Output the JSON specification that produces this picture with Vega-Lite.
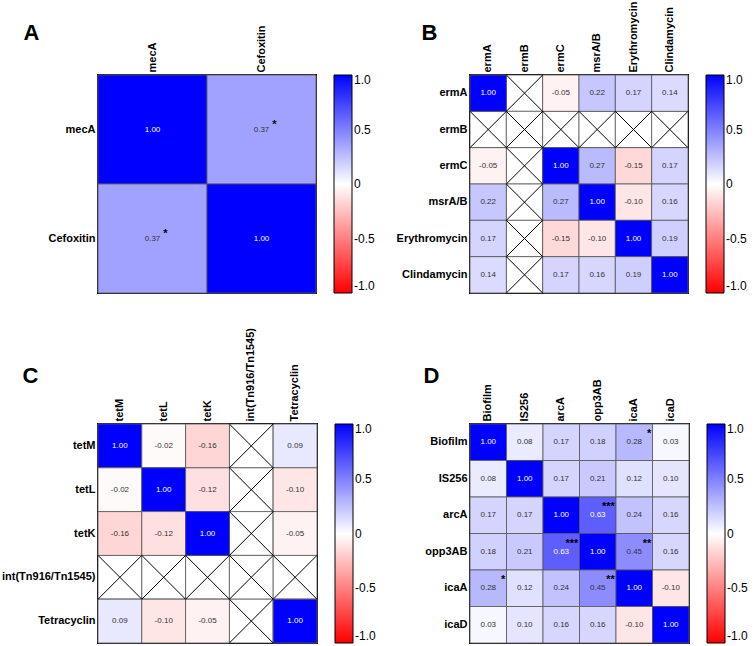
{
  "$schema": "https://vega.github.io/schema/vega-lite/v6.json",
  "padding": 0,
  "background": "white",
  "datasets": {
    "A": [
      {"row":"mecA","col":"mecA","r":1},{"row":"mecA","col":"Cefoxitin","r":0.37,"sig":"*"},
      {"row":"Cefoxitin","col":"mecA","r":0.37,"sig":"*"},{"row":"Cefoxitin","col":"Cefoxitin","r":1}
    ],
    "B": [
      {"row":"ermA","col":"ermA","r":1},{"row":"ermA","col":"ermB","r":null},{"row":"ermA","col":"ermC","r":-0.05},{"row":"ermA","col":"msrA/B","r":0.22},{"row":"ermA","col":"Erythromycin","r":0.17},{"row":"ermA","col":"Clindamycin","r":0.14},
      {"row":"ermB","col":"ermA","r":null},{"row":"ermB","col":"ermB","r":null},{"row":"ermB","col":"ermC","r":null},{"row":"ermB","col":"msrA/B","r":null},{"row":"ermB","col":"Erythromycin","r":null},{"row":"ermB","col":"Clindamycin","r":null},
      {"row":"ermC","col":"ermA","r":-0.05},{"row":"ermC","col":"ermB","r":null},{"row":"ermC","col":"ermC","r":1},{"row":"ermC","col":"msrA/B","r":0.27},{"row":"ermC","col":"Erythromycin","r":-0.15},{"row":"ermC","col":"Clindamycin","r":0.17},
      {"row":"msrA/B","col":"ermA","r":0.22},{"row":"msrA/B","col":"ermB","r":null},{"row":"msrA/B","col":"ermC","r":0.27},{"row":"msrA/B","col":"msrA/B","r":1},{"row":"msrA/B","col":"Erythromycin","r":-0.10},{"row":"msrA/B","col":"Clindamycin","r":0.16},
      {"row":"Erythromycin","col":"ermA","r":0.17},{"row":"Erythromycin","col":"ermB","r":null},{"row":"Erythromycin","col":"ermC","r":-0.15},{"row":"Erythromycin","col":"msrA/B","r":-0.10},{"row":"Erythromycin","col":"Erythromycin","r":1},{"row":"Erythromycin","col":"Clindamycin","r":0.19},
      {"row":"Clindamycin","col":"ermA","r":0.14},{"row":"Clindamycin","col":"ermB","r":null},{"row":"Clindamycin","col":"ermC","r":0.17},{"row":"Clindamycin","col":"msrA/B","r":0.16},{"row":"Clindamycin","col":"Erythromycin","r":0.19},{"row":"Clindamycin","col":"Clindamycin","r":1}
    ],
    "C": [
      {"row":"tetM","col":"tetM","r":1},{"row":"tetM","col":"tetL","r":-0.02},{"row":"tetM","col":"tetK","r":-0.16},{"row":"tetM","col":"int(Tn916/Tn1545)","r":null},{"row":"tetM","col":"Tetracyclin","r":0.09},
      {"row":"tetL","col":"tetM","r":-0.02},{"row":"tetL","col":"tetL","r":1},{"row":"tetL","col":"tetK","r":-0.12},{"row":"tetL","col":"int(Tn916/Tn1545)","r":null},{"row":"tetL","col":"Tetracyclin","r":-0.10},
      {"row":"tetK","col":"tetM","r":-0.16},{"row":"tetK","col":"tetL","r":-0.12},{"row":"tetK","col":"tetK","r":1},{"row":"tetK","col":"int(Tn916/Tn1545)","r":null},{"row":"tetK","col":"Tetracyclin","r":-0.05},
      {"row":"int(Tn916/Tn1545)","col":"tetM","r":null},{"row":"int(Tn916/Tn1545)","col":"tetL","r":null},{"row":"int(Tn916/Tn1545)","col":"tetK","r":null},{"row":"int(Tn916/Tn1545)","col":"int(Tn916/Tn1545)","r":null},{"row":"int(Tn916/Tn1545)","col":"Tetracyclin","r":null},
      {"row":"Tetracyclin","col":"tetM","r":0.09},{"row":"Tetracyclin","col":"tetL","r":-0.10},{"row":"Tetracyclin","col":"tetK","r":-0.05},{"row":"Tetracyclin","col":"int(Tn916/Tn1545)","r":null},{"row":"Tetracyclin","col":"Tetracyclin","r":1}
    ],
    "D": [
      {"row":"Biofilm","col":"Biofilm","r":1},{"row":"Biofilm","col":"IS256","r":0.08},{"row":"Biofilm","col":"arcA","r":0.17},{"row":"Biofilm","col":"opp3AB","r":0.18},{"row":"Biofilm","col":"icaA","r":0.28,"sig":"*"},{"row":"Biofilm","col":"icaD","r":0.03},
      {"row":"IS256","col":"Biofilm","r":0.08},{"row":"IS256","col":"IS256","r":1},{"row":"IS256","col":"arcA","r":0.17},{"row":"IS256","col":"opp3AB","r":0.21},{"row":"IS256","col":"icaA","r":0.12},{"row":"IS256","col":"icaD","r":0.10},
      {"row":"arcA","col":"Biofilm","r":0.17},{"row":"arcA","col":"IS256","r":0.17},{"row":"arcA","col":"arcA","r":1},{"row":"arcA","col":"opp3AB","r":0.63,"sig":"***"},{"row":"arcA","col":"icaA","r":0.24},{"row":"arcA","col":"icaD","r":0.16},
      {"row":"opp3AB","col":"Biofilm","r":0.18},{"row":"opp3AB","col":"IS256","r":0.21},{"row":"opp3AB","col":"arcA","r":0.63,"sig":"***"},{"row":"opp3AB","col":"opp3AB","r":1},{"row":"opp3AB","col":"icaA","r":0.45,"sig":"**"},{"row":"opp3AB","col":"icaD","r":0.16},
      {"row":"icaA","col":"Biofilm","r":0.28,"sig":"*"},{"row":"icaA","col":"IS256","r":0.12},{"row":"icaA","col":"arcA","r":0.24},{"row":"icaA","col":"opp3AB","r":0.45,"sig":"**"},{"row":"icaA","col":"icaA","r":1},{"row":"icaA","col":"icaD","r":-0.10},
      {"row":"icaD","col":"Biofilm","r":0.03},{"row":"icaD","col":"IS256","r":0.10},{"row":"icaD","col":"arcA","r":0.16},{"row":"icaD","col":"opp3AB","r":0.16},{"row":"icaD","col":"icaA","r":-0.10},{"row":"icaD","col":"icaD","r":1}
    ]
  },
  "columns": 2,
  "spacing": {"row": 30, "column": 18},
  "align": {"row": "each", "column": "each"},
  "bounds": "full",
  "resolve": {"scale": {"color": "independent"}, "legend": {"color": "independent"}},
  "concat": [
    {
      "width": 218, "height": 218,
      "data": {"name": "A"},
      "encoding": {
        "x": {"field": "col", "type": "nominal", "sort": ["mecA","Cefoxitin"], "scale": {"paddingInner": 0, "paddingOuter": 0}, "axis": {"orient": "top", "title": null}},
        "y": {"field": "row", "type": "nominal", "sort": ["mecA","Cefoxitin"], "scale": {"paddingInner": 0, "paddingOuter": 0}, "axis": {"title": "A", "titleX": -75, "titleY": -36}}
      },
      "layer": [
        {"mark": {"type": "rect", "fill": "white", "stroke": "#555", "strokeWidth": 0.8}},
        {"transform": [{"filter": "datum.r !== null"}], "mark": {"type": "rect", "stroke": "#555", "strokeWidth": 0.8},
         "encoding": {"color": {"field": "r", "type": "quantitative", "scale": {"type": "linear", "domain": [-1,0,1], "range": ["#ff0000","#ffffff","#0000ff"], "interpolate": "rgb"},
           "legend": {"title": null, "values": [1,0.5,0,-0.5,-1], "labelExpr": "datum.value == 0 ? '0' : replace(format(datum.value, '.1f'), '\u2212', '-')", "gradientLength": 218}}}},
        {"transform": [{"filter": "datum.r !== null"}, {"calculate": "replace(format(datum.r, '.2f'), '\u2212', '-')", "as": "lab"}], "mark": {"type": "text", "fontSize": 8},
         "encoding": {"text": {"field": "lab"}, "color": {"condition": {"test": "datum.r > 0.5", "value": "white"}, "value": "#333"}}},
        {"transform": [{"filter": "datum.sig != null"}], "mark": {"type": "text", "fontSize": 11, "fontWeight": "bold", "align": "right", "baseline": "middle", "dx": 15, "dy": -5, "color": "black"},
         "encoding": {"text": {"field": "sig"}}}
      ]
    },
    {
      "width": 218, "height": 218,
      "data": {"name": "B"},
      "encoding": {
        "x": {"field": "col", "type": "nominal", "sort": ["ermA","ermB","ermC","msrA/B","Erythromycin","Clindamycin"], "scale": {"paddingInner": 0, "paddingOuter": 0}, "axis": {"orient": "top", "title": null}},
        "y": {"field": "row", "type": "nominal", "sort": ["ermA","ermB","ermC","msrA/B","Erythromycin","Clindamycin"], "scale": {"paddingInner": 0, "paddingOuter": 0}, "axis": {"title": "B", "titleX": -49, "titleY": -36}}
      },
      "layer": [
        {"mark": {"type": "rect", "fill": "white", "stroke": "#555", "strokeWidth": 0.8}},
        {"transform": [{"filter": "datum.r !== null"}], "mark": {"type": "rect", "stroke": "#555", "strokeWidth": 0.8},
         "encoding": {"color": {"field": "r", "type": "quantitative", "scale": {"type": "linear", "domain": [-1,0,1], "range": ["#ff0000","#ffffff","#0000ff"], "interpolate": "rgb"},
           "legend": {"title": null, "values": [1,0.5,0,-0.5,-1], "labelExpr": "datum.value == 0 ? '0' : replace(format(datum.value, '.1f'), '\u2212', '-')", "gradientLength": 218}}}},
        {"transform": [{"filter": "datum.r !== null"}, {"calculate": "replace(format(datum.r, '.2f'), '\u2212', '-')", "as": "lab"}], "mark": {"type": "text", "fontSize": 8},
         "encoding": {"text": {"field": "lab"}, "color": {"condition": {"test": "datum.r > 0.5", "value": "white"}, "value": "#333"}}},
        {"transform": [{"filter": "datum.r === null"}], "mark": {"type": "point", "shape": "M-1,-1L1,1M-1,1L1,-1", "size": 1320, "filled": false, "stroke": "black", "strokeWidth": 1, "opacity": 1}}
      ]
    },
    {
      "width": 219, "height": 219,
      "data": {"name": "C"},
      "encoding": {
        "x": {"field": "col", "type": "nominal", "sort": ["tetM","tetL","tetK","int(Tn916/Tn1545)","Tetracyclin"], "scale": {"paddingInner": 0, "paddingOuter": 0}, "axis": {"orient": "top", "title": null}},
        "y": {"field": "row", "type": "nominal", "sort": ["tetM","tetL","tetK","int(Tn916/Tn1545)","Tetracyclin"], "scale": {"paddingInner": 0, "paddingOuter": 0}, "axis": {"title": "C", "titleX": -76, "titleY": -42}}
      },
      "layer": [
        {"mark": {"type": "rect", "fill": "white", "stroke": "#555", "strokeWidth": 0.8}},
        {"transform": [{"filter": "datum.r !== null"}], "mark": {"type": "rect", "stroke": "#555", "strokeWidth": 0.8},
         "encoding": {"color": {"field": "r", "type": "quantitative", "scale": {"type": "linear", "domain": [-1,0,1], "range": ["#ff0000","#ffffff","#0000ff"], "interpolate": "rgb"},
           "legend": {"title": null, "values": [1,0.5,0,-0.5,-1], "labelExpr": "datum.value == 0 ? '0' : replace(format(datum.value, '.1f'), '\u2212', '-')", "gradientLength": 219}}}},
        {"transform": [{"filter": "datum.r !== null"}, {"calculate": "replace(format(datum.r, '.2f'), '\u2212', '-')", "as": "lab"}], "mark": {"type": "text", "fontSize": 8},
         "encoding": {"text": {"field": "lab"}, "color": {"condition": {"test": "datum.r > 0.5", "value": "white"}, "value": "#333"}}},
        {"transform": [{"filter": "datum.r === null"}], "mark": {"type": "point", "shape": "M-1,-1L1,1M-1,1L1,-1", "size": 1918, "filled": false, "stroke": "black", "strokeWidth": 1, "opacity": 1}}
      ]
    },
    {
      "width": 219, "height": 219,
      "data": {"name": "D"},
      "encoding": {
        "x": {"field": "col", "type": "nominal", "sort": ["Biofilm","IS256","arcA","opp3AB","icaA","icaD"], "scale": {"paddingInner": 0, "paddingOuter": 0}, "axis": {"orient": "top", "title": null}},
        "y": {"field": "row", "type": "nominal", "sort": ["Biofilm","IS256","arcA","opp3AB","icaA","icaD"], "scale": {"paddingInner": 0, "paddingOuter": 0}, "axis": {"title": "D", "titleX": -47, "titleY": -42}}
      },
      "layer": [
        {"mark": {"type": "rect", "fill": "white", "stroke": "#555", "strokeWidth": 0.8}},
        {"transform": [{"filter": "datum.r !== null"}], "mark": {"type": "rect", "stroke": "#555", "strokeWidth": 0.8},
         "encoding": {"color": {"field": "r", "type": "quantitative", "scale": {"type": "linear", "domain": [-1,0,1], "range": ["#ff0000","#ffffff","#0000ff"], "interpolate": "rgb"},
           "legend": {"title": null, "values": [1,0.5,0,-0.5,-1], "labelExpr": "datum.value == 0 ? '0' : replace(format(datum.value, '.1f'), '\u2212', '-')", "gradientLength": 219}}}},
        {"transform": [{"filter": "datum.r !== null"}, {"calculate": "replace(format(datum.r, '.2f'), '\u2212', '-')", "as": "lab"}], "mark": {"type": "text", "fontSize": 8},
         "encoding": {"text": {"field": "lab"}, "color": {"condition": {"test": "datum.r > 0.5", "value": "white"}, "value": "#333"}}},
        {"transform": [{"filter": "datum.sig != null"}], "mark": {"type": "text", "fontSize": 11, "fontWeight": "bold", "align": "right", "baseline": "middle", "dx": 17, "dy": -8, "color": "black"},
         "encoding": {"text": {"field": "sig"}}}
      ]
    }
  ],
  "config": {
    "font": "Liberation Sans",
    "view": {"stroke": "black", "strokeWidth": 2},
    "axis": {
      "labelFont": "Liberation Sans", "labelFontSize": 11, "labelFontWeight": "bold", "labelColor": "black",
      "ticks": false, "domain": false, "labelPadding": 3, "labelAngle": 0,
      "titleFont": "Liberation Sans", "titleFontSize": 22, "titleFontWeight": "bold", "titleColor": "black",
      "titleAngle": 0, "titleAlign": "left", "titleBaseline": "alphabetic"
    },
    "axisX": {"labelAngle": -90},
    "legend": {
      "orient": "right", "offset": 18, "direction": "vertical", "gradientThickness": 18,
      "gradientStrokeColor": "black", "gradientStrokeWidth": 1,
      "labelFont": "Liberation Sans", "labelFontSize": 12, "labelColor": "black", "labelOffset": 6, "labelBaseline": "middle", "padding": 0
    }
  }
}
